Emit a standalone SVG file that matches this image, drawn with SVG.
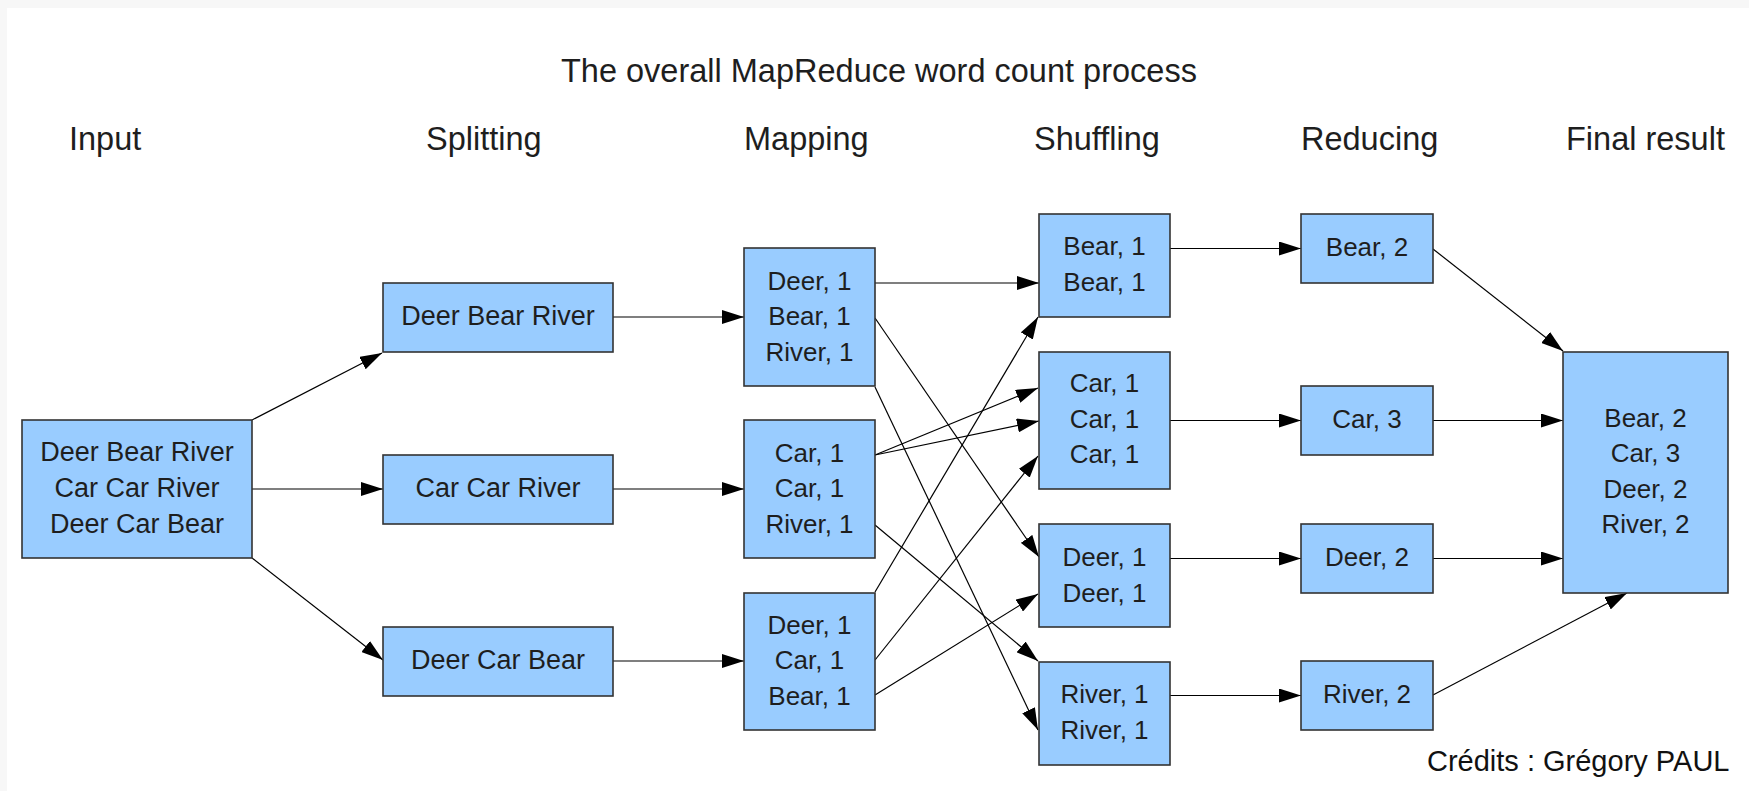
<svg xmlns="http://www.w3.org/2000/svg" width="1749" height="791" viewBox="0 0 1749 791">
<style>
.bg{fill:#f7f7f7}
.page{fill:#ffffff}
.box{fill:#99ccff;stroke:#333333;stroke-width:1.6}
.t{font-family:"Liberation Sans",Arial,sans-serif;font-size:26px;fill:#1e1e1e;text-anchor:middle}
.t27{font-size:27px}
.h{font-family:"Liberation Sans",Arial,sans-serif;font-size:32.5px;fill:#1e1e1e}
.cr{font-family:"Liberation Sans",Arial,sans-serif;font-size:29px;fill:#111111}
.c{stroke:#000000;stroke-width:1.2;fill:none;marker-end:url(#ah)}
</style>
<defs>
<marker id="ah" markerUnits="userSpaceOnUse" markerWidth="22" markerHeight="14" refX="22" refY="7" orient="auto">
<path d="M0,0 L22,7 L0,14 z" fill="#000000"/>
</marker>
</defs>
<rect class="bg" x="0" y="0" width="1749" height="791"/>
<rect class="page" x="7" y="8" width="1742" height="783"/>

<text class="h" x="561" y="82">The overall MapReduce word count process</text>
<g id="headers">
<text class="h" x="69" y="150">Input</text>
<text class="h" x="426" y="150">Splitting</text>
<text class="h" x="744" y="150">Mapping</text>
<text class="h" x="1034" y="150">Shuffling</text>
<text class="h" x="1301" y="150">Reducing</text>
<text class="h" x="1566" y="150">Final result</text>
</g>

<g id="connectors">
<line class="c" x1="252" y1="420" x2="382" y2="353"/>
<line class="c" x1="252" y1="489" x2="383" y2="489"/>
<line class="c" x1="252" y1="558" x2="383" y2="660"/>

<line class="c" x1="613" y1="317" x2="744" y2="317"/>
<line class="c" x1="613" y1="489" x2="744" y2="489"/>
<line class="c" x1="613" y1="661" x2="744" y2="661"/>

<line class="c" x1="875" y1="283" x2="1039" y2="283"/>
<line class="c" x1="875" y1="318" x2="1039" y2="557"/>
<line class="c" x1="875" y1="387" x2="1038" y2="730"/>
<line class="c" x1="875" y1="455" x2="1038" y2="388"/>
<line class="c" x1="875" y1="455" x2="1039" y2="421"/>
<line class="c" x1="875" y1="525" x2="1038" y2="661"/>
<line class="c" x1="875" y1="592" x2="1038" y2="317"/>
<line class="c" x1="875" y1="660" x2="1038" y2="456"/>
<line class="c" x1="875" y1="695" x2="1038" y2="594"/>

<line class="c" x1="1170" y1="248.5" x2="1301" y2="248.5"/>
<line class="c" x1="1170" y1="420.5" x2="1301" y2="420.5"/>
<line class="c" x1="1170" y1="558.5" x2="1301" y2="558.5"/>
<line class="c" x1="1170" y1="695.5" x2="1301" y2="695.5"/>

<line class="c" x1="1433" y1="249" x2="1563" y2="351"/>
<line class="c" x1="1433" y1="420.5" x2="1563" y2="420.5"/>
<line class="c" x1="1433" y1="558.5" x2="1563" y2="558.5"/>
<line class="c" x1="1433" y1="695" x2="1627" y2="593"/>
</g>

<g id="input">
<rect class="box" x="22" y="420" width="230" height="138"/>
<text class="t t27" x="137" y="461">Deer Bear River</text>
<text class="t t27" x="137" y="497">Car Car River</text>
<text class="t t27" x="137" y="533">Deer Car Bear</text>
</g>

<g id="split1">
<rect class="box" x="383" y="283" width="230" height="69"/>
<text class="t t27" x="498" y="324.5">Deer Bear River</text>
</g>
<g id="split2">
<rect class="box" x="383" y="455" width="230" height="69"/>
<text class="t t27" x="498" y="496.5">Car Car River</text>
</g>
<g id="split3">
<rect class="box" x="383" y="627" width="230" height="69"/>
<text class="t t27" x="498" y="668.5">Deer Car Bear</text>
</g>

<g id="map1">
<rect class="box" x="744" y="248" width="131" height="138"/>
<text class="t" x="809.5" y="289.5">Deer, 1</text>
<text class="t" x="809.5" y="325">Bear, 1</text>
<text class="t" x="809.5" y="360.5">River, 1</text>
</g>
<g id="map2">
<rect class="box" x="744" y="420" width="131" height="138"/>
<text class="t" x="809.5" y="461.5">Car, 1</text>
<text class="t" x="809.5" y="497">Car, 1</text>
<text class="t" x="809.5" y="532.5">River, 1</text>
</g>
<g id="map3">
<rect class="box" x="744" y="593" width="131" height="137"/>
<text class="t" x="809.5" y="633.5">Deer, 1</text>
<text class="t" x="809.5" y="669">Car, 1</text>
<text class="t" x="809.5" y="704.5">Bear, 1</text>
</g>

<g id="shuffle-bear">
<rect class="box" x="1039" y="214" width="131" height="103"/>
<text class="t" x="1104.5" y="255">Bear, 1</text>
<text class="t" x="1104.5" y="290.5">Bear, 1</text>
</g>
<g id="shuffle-car">
<rect class="box" x="1039" y="352" width="131" height="137"/>
<text class="t" x="1104.5" y="392">Car, 1</text>
<text class="t" x="1104.5" y="427.5">Car, 1</text>
<text class="t" x="1104.5" y="463">Car, 1</text>
</g>
<g id="shuffle-deer">
<rect class="box" x="1039" y="524" width="131" height="103"/>
<text class="t" x="1104.5" y="566">Deer, 1</text>
<text class="t" x="1104.5" y="601.5">Deer, 1</text>
</g>
<g id="shuffle-river">
<rect class="box" x="1039" y="662" width="131" height="103"/>
<text class="t" x="1104.5" y="703">River, 1</text>
<text class="t" x="1104.5" y="738.5">River, 1</text>
</g>

<g id="reduce-bear">
<rect class="box" x="1301" y="214" width="132" height="69"/>
<text class="t" x="1367" y="255.5">Bear, 2</text>
</g>
<g id="reduce-car">
<rect class="box" x="1301" y="386" width="132" height="69"/>
<text class="t" x="1367" y="427.5">Car, 3</text>
</g>
<g id="reduce-deer">
<rect class="box" x="1301" y="524" width="132" height="69"/>
<text class="t" x="1367" y="565.5">Deer, 2</text>
</g>
<g id="reduce-river">
<rect class="box" x="1301" y="661" width="132" height="69"/>
<text class="t" x="1367" y="702.5">River, 2</text>
</g>

<g id="final">
<rect class="box" x="1563" y="352" width="165" height="241"/>
<text class="t" x="1645.5" y="427">Bear, 2</text>
<text class="t" x="1645.5" y="462">Car, 3</text>
<text class="t" x="1645.5" y="497.5">Deer, 2</text>
<text class="t" x="1645.5" y="533">River, 2</text>
</g>

<text class="cr" x="1427" y="771">Crédits : Grégory PAUL</text>
</svg>
